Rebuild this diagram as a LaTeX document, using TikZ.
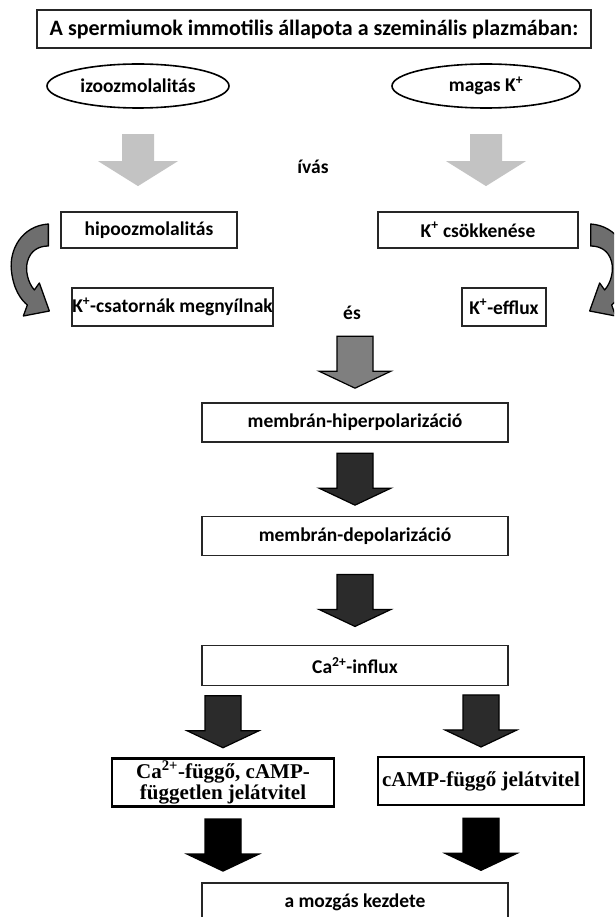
\documentclass[tikz,border=0pt]{standalone}
\usepackage{fontspec}
\setmainfont{Carlito}
\newfontfamily\timesfont{Liberation Serif}
\usetikzlibrary{positioning, calc, shapes.geometric}
\definecolor{lightarrow}{HTML}{C3C3C3}
\definecolor{midarrow}{HTML}{7F7F7F}
\definecolor{darkarrow}{HTML}{2B2B2B}
\definecolor{curvegray}{HTML}{6E6E6E}
\definecolor{boxline}{HTML}{262626}

\newcommand{\boxfont}{\fontsize{19.5pt}{22pt}\selectfont\bfseries}
\newcommand{\titlefont}{\fontsize{22pt}{24pt}\selectfont\bfseries}
\newcommand{\tboxfont}{\fontsize{21pt}{21pt}\timesfont\bfseries}

% block arrow: [style]{x node}{from}{to}
\newcommand{\blkarrow}[4][]{%
  \path[blk,#1] let \p1=(#2), \p4=($(#3.south)!0.5!(#4.north)$) in
    (\x1-\shw,\y4+\hlen) -- (\x1+\shw,\y4+\hlen) -- (\x1+\shw,\y4-\hlen+\hln)
    -- (\x1+\hhw,\y4-\hlen+\hln) -- (\x1,\y4-\hlen) -- (\x1-\hhw,\y4-\hlen+\hln)
    -- (\x1-\shw,\y4-\hlen+\hln) -- cycle;}

\begin{document}
\begin{tikzpicture}[x=1pt, y=-1pt,
    box/.style={rectangle, draw=boxline, line width=1.3pt, fill=white, text centered, inner sep=0pt, minimum height=38pt, font=\boxfont},
    oval/.style={ellipse, draw=black, line width=1.6pt, inner sep=0pt, font=\boxfont},
    tbox/.style={rectangle, draw=black, line width=2.6pt, fill=white, align=center, inner sep=0pt, minimum height=48pt, font=\tboxfont},
    freetext/.style={inner sep=2pt, font=\boxfont},
    blk/.style={draw=black, line width=1.2pt, line join=miter, /utils/exec={\def\shw{18pt}\def\hhw{36pt}\def\hln{17pt}\def\hlen{26pt}}},
    blklight/.style={draw=none, fill=lightarrow, /utils/exec={\def\shw{16pt}\def\hhw{40pt}\def\hln{25pt}}},
    blkmid/.style={fill=midarrow},
    blkdark/.style={fill=darkarrow},
    blkblack/.style={fill=black},
    curvefill/.style={draw=black, line width=1.3pt, fill=curvegray, line join=round},
    curvarrow/.pic={\path[curvefill] (-12,-6) .. controls (-39,-4) and (-51,20) .. (-49,40)
      .. controls (-47,60) and (-39,70) .. (-33,75) -- (-37,86) -- (-11,81) -- (-21,53) -- (-26,60)
      .. controls (-33,52) and (-35,40) .. (-33,32) .. controls (-30,20) and (-21,16) .. (-12,16) -- cycle;}
]
    \useasboundingbox (0,0) rectangle (614,917);
    \fill[white] (0,0) rectangle (614,917);
    \clip (0,0) rectangle (614,917);

    \node[box, minimum width=554pt, font=\titlefont] (title) at (314,29) {A spermiumok immotilis állapota a szeminális plazmában:};
    \node[oval, minimum width=182pt, minimum height=44pt] (izo) at (138,86) {izoozmolalitás};
    \node[oval, minimum width=188pt, minimum height=44pt] (magas) at (486,86) {magas K\textsuperscript{+}};
    \node[freetext] (ivas) at (313,167) {ívás};
    \node[box, minimum width=176pt, minimum height=36pt] (hipo) at (149,230) {hipoozmolalitás};
    \node[box, minimum width=200pt, minimum height=36pt] (kcsokk) at (478,230) {K\textsuperscript{+} csökkenése};
    \node[box, minimum width=201pt] (kcsat) at (172.5,307) {K\textsuperscript{+}-csatornák megnyílnak};
    \node[box, minimum width=84pt] (keff) at (504,307) {K\textsuperscript{+}-efflux};
    \node[freetext] (es) at (352,313) {és};
    \node[box, minimum width=306pt, minimum height=39pt] (hiper) at (355,422.5) {membrán-hiperpolarizáció};
    \node[box, minimum width=306pt, minimum height=39pt, below=73pt of hiper] (depol) {membrán-depolarizáció};
    \node[box, minimum width=306pt, minimum height=40pt, below=89pt of depol] (cainf) {Ca\textsuperscript{2+}-influx};
    \node[tbox, minimum width=222pt] (cadep) at (223,782.5) {Ca\textsuperscript{2+}-függő, cAMP-\\független jelátvitel};
    \node[tbox, minimum width=206pt] (campdep) at (481,781) {cAMP-függő jelátvitel};
    \node[box, minimum width=306pt, minimum height=39pt] (start) at (355,902.5) {a mozgás kezdete};

    \pic at (hipo.west) {curvarrow};
    \pic[xscale=-1] at (kcsokk.east) {curvarrow};

    \blkarrow[blklight]{izo}{izo}{hipo}
    \blkarrow[blklight]{magas}{magas}{kcsokk}
    \blkarrow[blkmid]{hiper}{es}{hiper}
    \blkarrow[blkdark]{hiper}{hiper}{depol}
    \blkarrow[blkdark]{depol}{depol}{cainf}
    \blkarrow[blkdark]{cadep}{cainf}{cadep}
    \blkarrow[blkdark]{campdep}{cainf}{campdep}
    \blkarrow[blkblack]{cadep}{cadep}{start}
    \blkarrow[blkblack]{campdep}{campdep}{start}
\end{tikzpicture}
\end{document}
